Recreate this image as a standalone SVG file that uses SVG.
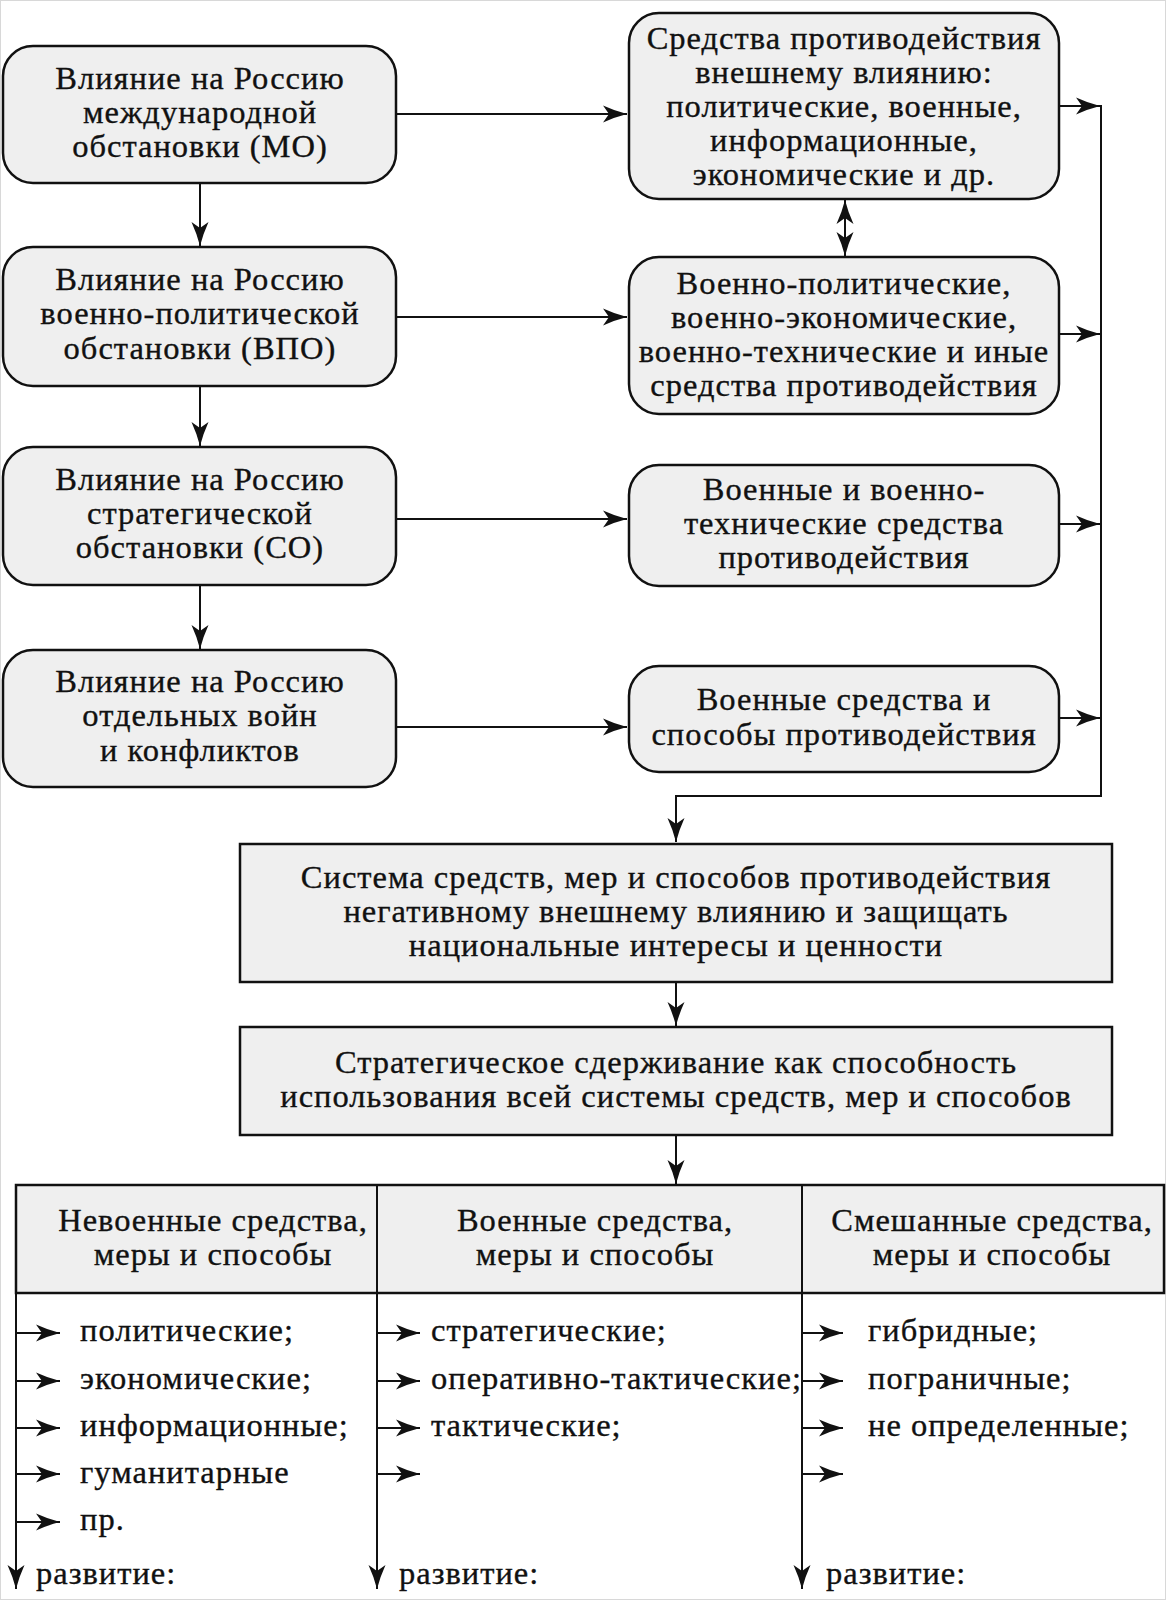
<svg xmlns="http://www.w3.org/2000/svg" width="1166" height="1600" viewBox="0 0 1166 1600">
<style>
text{font-family:"Liberation Serif","Times New Roman",serif;font-size:32.5px;letter-spacing:1px;fill:#111;stroke:#111;stroke-width:0.35;}
.c{text-anchor:middle;}
.box{fill:#efefef;stroke:#111;stroke-width:2.5;}
.ln{fill:none;stroke:#111;stroke-width:2;}
.ah{marker-end:url(#arr);}
</style>
<defs>
<marker id="arr" markerUnits="userSpaceOnUse" markerWidth="30" markerHeight="20" viewBox="-26 -10 28 20" refX="0" refY="0" orient="auto">
<path d="M0,0 Q-12,-3 -24,-8.5 L-18,0 L-24,8.5 Q-12,3 0,0 Z" fill="#111"/>
</marker>
<marker id="arrs" markerUnits="userSpaceOnUse" markerWidth="30" markerHeight="20" viewBox="-26 -10 28 20" refX="0" refY="0" orient="auto-start-reverse">
<path d="M0,0 Q-12,-3 -24,-8.5 L-18,0 L-24,8.5 Q-12,3 0,0 Z" fill="#111"/>
</marker>
</defs>
<rect x="0.5" y="0.5" width="1165" height="1599" fill="#fff" stroke="#d8d8d8" stroke-width="1"/>

<g id="connectors">
<line class="ln ah" x1="200" y1="183" x2="200" y2="246"/>
<line class="ln ah" x1="200" y1="386" x2="200" y2="446"/>
<line class="ln ah" x1="200" y1="585" x2="200" y2="649"/>
<line class="ln ah" x1="396" y1="114" x2="627" y2="114"/>
<line class="ln ah" x1="396" y1="317" x2="627" y2="317"/>
<line class="ln ah" x1="396" y1="519" x2="627" y2="519"/>
<line class="ln ah" x1="396" y1="727" x2="627" y2="727"/>
<line class="ln ah" x1="1059" y1="106" x2="1100" y2="106"/>
<line class="ln ah" x1="1059" y1="334" x2="1100" y2="334"/>
<line class="ln ah" x1="1059" y1="524" x2="1100" y2="524"/>
<line class="ln ah" x1="1059" y1="718" x2="1100" y2="718"/>
<polyline class="ln ah" points="1101,105 1101,796 676,796 676,842"/>
<line class="ln" x1="845" y1="200" x2="845" y2="256" marker-start="url(#arrs)" marker-end="url(#arr)"/>
<line class="ln ah" x1="676" y1="982" x2="676" y2="1026"/>
<line class="ln ah" x1="676" y1="1135" x2="676" y2="1184"/>
<line class="ln ah" x1="16" y1="1293" x2="16" y2="1589"/>
<line class="ln ah" x1="377" y1="1293" x2="377" y2="1589"/>
<line class="ln ah" x1="802" y1="1293" x2="802" y2="1589"/>
<line class="ln ah" x1="16" y1="1333" x2="60" y2="1333"/>
<line class="ln ah" x1="16" y1="1381" x2="60" y2="1381"/>
<line class="ln ah" x1="16" y1="1428" x2="60" y2="1428"/>
<line class="ln ah" x1="16" y1="1474" x2="60" y2="1474"/>
<line class="ln ah" x1="16" y1="1522" x2="60" y2="1522"/>
<line class="ln ah" x1="377" y1="1333" x2="420" y2="1333"/>
<line class="ln ah" x1="377" y1="1381" x2="420" y2="1381"/>
<line class="ln ah" x1="377" y1="1428" x2="420" y2="1428"/>
<line class="ln ah" x1="377" y1="1474" x2="420" y2="1474"/>
<line class="ln ah" x1="802" y1="1333" x2="843" y2="1333"/>
<line class="ln ah" x1="802" y1="1381" x2="843" y2="1381"/>
<line class="ln ah" x1="802" y1="1428" x2="843" y2="1428"/>
<line class="ln ah" x1="802" y1="1474" x2="843" y2="1474"/>
</g>

<g id="mo">
<rect class="box" x="3" y="46" width="393" height="137" rx="30"/>
<text class="c" x="200" y="89">Влияние на Россию</text>
<text class="c" x="200" y="123">международной</text>
<text class="c" x="200" y="157">обстановки (МО)</text>
</g>
<g id="vpo">
<rect class="box" x="3" y="247" width="393" height="139" rx="30"/>
<text class="c" x="200" y="290">Влияние на Россию</text>
<text class="c" x="200" y="324">военно-политической</text>
<text class="c" x="200" y="359">обстановки (ВПО)</text>
</g>
<g id="so">
<rect class="box" x="3" y="447" width="393" height="138" rx="30"/>
<text class="c" x="200" y="490">Влияние на Россию</text>
<text class="c" x="200" y="524">стратегической</text>
<text class="c" x="200" y="558">обстановки (СО)</text>
</g>
<g id="wars">
<rect class="box" x="3" y="650" width="393" height="137" rx="30"/>
<text class="c" x="200" y="692">Влияние на Россию</text>
<text class="c" x="200" y="726">отдельных войн</text>
<text class="c" x="200" y="761">и конфликтов</text>
</g>

<g id="means1">
<rect class="box" x="629" y="13" width="430" height="186" rx="30"/>
<text class="c" x="844" y="49">Средства противодействия</text>
<text class="c" x="844" y="83">внешнему влиянию:</text>
<text class="c" x="844" y="117">политические, военные,</text>
<text class="c" x="844" y="151">информационные,</text>
<text class="c" x="844" y="185">экономические и др.</text>
</g>
<g id="means2">
<rect class="box" x="629" y="257" width="430" height="157" rx="30"/>
<text class="c" x="844" y="294">Военно-политические,</text>
<text class="c" x="844" y="328">военно-экономические,</text>
<text class="c" x="844" y="362">военно-технические и иные</text>
<text class="c" x="844" y="396">средства противодействия</text>
</g>
<g id="means3">
<rect class="box" x="629" y="465" width="430" height="121" rx="30"/>
<text class="c" x="844" y="500">Военные и военно-</text>
<text class="c" x="844" y="534">технические средства</text>
<text class="c" x="844" y="568">противодействия</text>
</g>
<g id="means4">
<rect class="box" x="629" y="666" width="430" height="106" rx="30"/>
<text class="c" x="844" y="710">Военные средства и</text>
<text class="c" x="844" y="745">способы противодействия</text>
</g>

<g id="system">
<rect class="box" x="240" y="844" width="872" height="138"/>
<text class="c" x="676" y="888">Система средств, мер и способов противодействия</text>
<text class="c" x="676" y="922">негативному внешнему влиянию и защищать</text>
<text class="c" x="676" y="956">национальные интересы и ценности</text>
</g>
<g id="deterrence">
<rect class="box" x="240" y="1027" width="872" height="108"/>
<text class="c" x="676" y="1073">Стратегическое сдерживание как способность</text>
<text class="c" x="676" y="1107">использования всей системы средств, мер и способов</text>
</g>

<g id="table-header">
<rect class="box" x="16" y="1185" width="1148" height="108"/>
<line class="ln" x1="377" y1="1185" x2="377" y2="1293"/>
<line class="ln" x1="802" y1="1185" x2="802" y2="1293"/>
</g>
<g id="nonmilitary">
<text class="c" x="213" y="1231">Невоенные средства,</text>
<text class="c" x="213" y="1265">меры и способы</text>
<text x="80" y="1341">политические;</text>
<text x="80" y="1389">экономические;</text>
<text x="80" y="1436">информационные;</text>
<text x="80" y="1483">гуманитарные</text>
<text x="80" y="1530">пр.</text>
<text x="36" y="1584">развитие:</text>
</g>
<g id="military">
<text class="c" x="595" y="1231">Военные средства,</text>
<text class="c" x="595" y="1265">меры и способы</text>
<text x="431" y="1341">стратегические;</text>
<text x="431" y="1389">оперативно-тактические;</text>
<text x="431" y="1436">тактические;</text>
<text x="399" y="1584">развитие:</text>
</g>
<g id="mixed">
<text class="c" x="992" y="1231">Смешанные средства,</text>
<text class="c" x="992" y="1265">меры и способы</text>
<text x="868" y="1341">гибридные;</text>
<text x="868" y="1389">пограничные;</text>
<text x="868" y="1436">не определенные;</text>
<text x="826" y="1584">развитие:</text>
</g>
</svg>
